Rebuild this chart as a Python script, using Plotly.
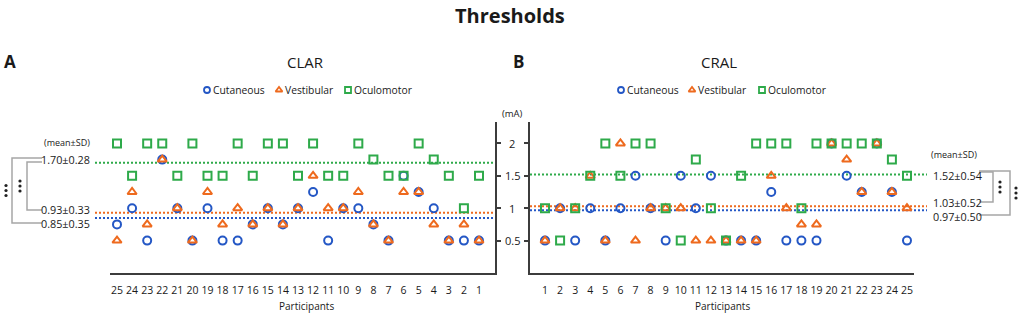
import numpy as np
import plotly.graph_objects as go

# ---------------- data ----------------
participants = list(range(1, 26))

clar_cutaneous = [0.5, 0.5, 0.5, 1.0, 1.25, 1.5, 0.5, 0.75, 1.0, 1.0, 0.5, 1.25, 1.0,
                  0.75, 1.0, 0.75, 0.5, 0.5, 1.0, 0.5, 1.0, 1.75, 0.5, 1.0, 0.75]
clar_vestibular = [0.5, 0.75, 0.5, 0.75, 1.25, 1.25, 0.5, 0.75, 1.25, 1.0, 1.0, 1.5, 1.0,
                   0.75, 1.0, 0.75, 1.0, 0.75, 1.25, 0.5, 1.0, 1.75, 0.75, 1.25, 0.5]
clar_oculomotor = [1.5, 1.0, 1.5, 1.75, 2.0, 1.5, 1.5, 1.75, 2.0, 1.5, 1.5, 2.0, 1.5,
                   2.0, 2.0, 1.5, 2.0, 1.5, 1.5, 2.0, 1.5, 2.0, 2.0, 1.5, 2.0]

cral_cutaneous = [0.5, 1.0, 0.5, 1.0, 0.5, 1.0, 1.5, 1.0, 0.5, 1.5, 1.0, 1.5, 0.5,
                  0.5, 0.5, 1.25, 0.5, 0.5, 0.5, 2.0, 1.5, 1.25, 2.0, 1.25, 0.5]
cral_vestibular = [0.5, 1.0, 1.0, 1.5, 0.5, 2.0, 0.5, 1.0, 1.0, 1.0, 0.5, 0.5, 0.5,
                   0.5, 0.5, 1.5, 1.0, 0.75, 0.75, 2.0, 1.75, 1.25, 2.0, 1.25, 1.0]
cral_oculomotor = [1.0, 0.5, 1.0, 1.5, 2.0, 1.5, 2.0, 2.0, 1.0, 0.5, 1.75, 1.0, 0.5,
                   1.5, 2.0, 2.0, 2.0, 1.0, 2.0, 2.0, 2.0, 2.0, 2.0, 1.75, 1.5]

series_names = ["Cutaneous", "Vestibular", "Oculomotor"]
clar_labels = ["0.85±0.35", "0.93±0.33", "1.70±0.28"]
cral_labels = ["0.97±0.50", "1.03±0.52", "1.52±0.54"]
y_ticks = [0.5, 1, 1.5, 2]
y_tick_text = ["0.5", "1", "1.5", "2"]

# ---------------- style ----------------
W, H = 1021, 318
FONT = "Open Sans"
TXT = "#1a1a1a"
AX = "#3c3c3c"
colors = ["#2457c5", "#ee6a1e", "#2eaa4a"]
symbols = ["circle-open", "triangle-up-open", "square-open"]


def fx(p):
    return p / W


def fy(p):
    return 1 - p / H


fig = go.Figure()

panels = [
    dict(name="CLAR", xa="x", ya="y",
         data=[clar_cutaneous, clar_vestibular, clar_oculomotor], labels=clar_labels),
    dict(name="CRAL", xa="x2", ya="y2",
         data=[cral_cutaneous, cral_vestibular, cral_oculomotor], labels=cral_labels),
]

for pnl in panels:
    for i, vals in enumerate(pnl["data"]):
        fig.add_trace(go.Scatter(
            x=participants, y=vals, mode="markers", xaxis=pnl["xa"], yaxis=pnl["ya"],
            name=series_names[i], showlegend=False, cliponaxis=False,
            marker=dict(symbol=symbols[i], size=8, color=colors[i],
                        line=dict(width=2, color=colors[i]))))

# ---------------- axes ----------------
axis_common = dict(showgrid=False, zeroline=False, showline=True, linecolor=AX, linewidth=2)
yrange = [0, 2.33]
ydom = [fy(273), fy(122)]
xtickfont = dict(size=10.5, color=TXT, family=FONT)

fig.update_layout(
    xaxis=dict(domain=[fx(110), fx(495)], range=[25.464, -0.061], anchor="y",
               tickvals=participants, ticks="", tickfont=xtickfont,
               ticklabelstandoff=6, **axis_common),
    yaxis=dict(domain=ydom, range=yrange, anchor="x", side="right", tickvals=y_ticks,
               ticks="outside", ticklen=4, tickwidth=1.5, tickcolor=AX, showticklabels=False,
               **axis_common),
    xaxis2=dict(domain=[fx(530), fx(914)], range=[0.005, 25.465], anchor="y2",
                tickvals=participants, ticks="", tickfont=xtickfont,
                ticklabelstandoff=6, **axis_common),
    yaxis2=dict(domain=ydom, range=yrange, anchor="x2", side="left", tickvals=y_ticks,
                ticks="outside", ticklen=4, tickwidth=1.5, tickcolor=AX, showticklabels=False,
                **axis_common),
    xaxis3=dict(domain=[0, 1], range=[0, W], visible=False, anchor="y3", fixedrange=True),
    yaxis3=dict(domain=[0, 1], range=[H, 0], visible=False, anchor="x3", fixedrange=True),
)

annotations = []
shapes = []


def text(x, y, s, size=11, xanchor="center", bold=False, color=TXT):
    annotations.append(dict(
        x=fx(x), y=fy(y), xref="paper", yref="paper", text=f"<b>{s}</b>" if bold else s,
        showarrow=False, xanchor=xanchor, yanchor="middle",
        font=dict(family=FONT, size=size, color=color)))


# titles
text(510, 16, "Thresholds", size=20, bold=True)
text(10, 61, "A", size=17, bold=True)
text(518, 61, "B", size=17, bold=True)
text(305, 62, "CLAR", size=15)
text(719, 62, "CRAL", size=15)
text(306, 306, "Participants", size=10)
text(722, 306, "Participants", size=10)

# y tick labels shared between the panels
for v, t in zip(y_ticks, y_tick_text):
    annotations.append(dict(x=fx(512), y=v, xref="paper", yref="y", text=t, showarrow=False,
                            xanchor="center", yanchor="middle",
                            font=dict(family=FONT, size=11, color=TXT)))
text(512, 114, "(mA)", size=9.5)

# legends (symbols on overlay axis + text)
legend_pos = {"CLAR": [207, 279, 348], "CRAL": [621, 692, 762]}
for pname, xs in legend_pos.items():
    for i, xx in enumerate(xs):
        fig.add_trace(go.Scatter(
            x=[xx], y=[90], xaxis="x3", yaxis="y3", mode="markers", showlegend=False,
            hoverinfo="skip", cliponaxis=False,
            marker=dict(symbol=symbols[i], size=6, color=colors[i],
                        line=dict(width=1.8, color=colors[i]))))
        text(xx + 4, 90, series_names[i], size=10.3, xanchor="left")

# mean lines
line_extent = {"CLAR": (95, 493), "CRAL": (530, 927)}
for pnl in panels:
    x0, x1 = line_extent[pnl["name"]]
    for i, vals in enumerate(pnl["data"]):
        m = float(np.mean(vals))
        shapes.append(dict(type="line", xref="paper", yref=pnl["ya"], x0=fx(x0), x1=fx(x1),
                           y0=m, y1=m, line=dict(color=colors[i], width=2, dash="2px,2px"),
                           layer="below"))

# mean±SD labels
text(67, 142, "(mean±SD)", size=9)
for s, yy in zip(clar_labels, [224, 209, 159]):
    text(92, yy, s, size=10.8, xanchor="right")
text(954, 154, "(mean±SD)", size=9)
for s, yy in zip(cral_labels, [216, 202, 175]):
    text(931, yy, s, size=10.8, xanchor="left")


def path(pts):
    d = "M " + " L ".join(f"{fx(a)},{fy(b)}" for a, b in pts)
    shapes.append(dict(type="path", xref="paper", yref="paper", path=d,
                       line=dict(color="#a6a6a6", width=1.5)))


path([(42, 158), (12, 158), (12, 223), (42, 223)])
path([(42, 162), (27, 162), (27, 210), (42, 210)])
path([(979, 171), (1010, 171), (1010, 215), (979, 215)])
path([(979, 172), (993, 172), (993, 202), (979, 202)])

# significance dots
for xx, yc in [(6, 190.5), (20, 186), (1000, 187), (1016, 193)]:
    fig.add_trace(go.Scatter(
        x=[xx, xx, xx], y=[yc - 5, yc, yc + 5], xaxis="x3", yaxis="y3", mode="markers",
        showlegend=False, hoverinfo="skip", cliponaxis=False,
        marker=dict(symbol="circle", size=3.2, color="#222222")))

fig.update_layout(
    width=W, height=H, margin=dict(l=0, r=0, t=0, b=0),
    paper_bgcolor="white", plot_bgcolor="rgba(0,0,0,0)",
    showlegend=False, annotations=annotations, shapes=shapes,
    font=dict(family=FONT, color=TXT),
)

fig.write_html("out.html",
               config={"displayModeBar": False},
               post_script="document.body.style.margin='0';document.body.style.overflow='hidden';")
